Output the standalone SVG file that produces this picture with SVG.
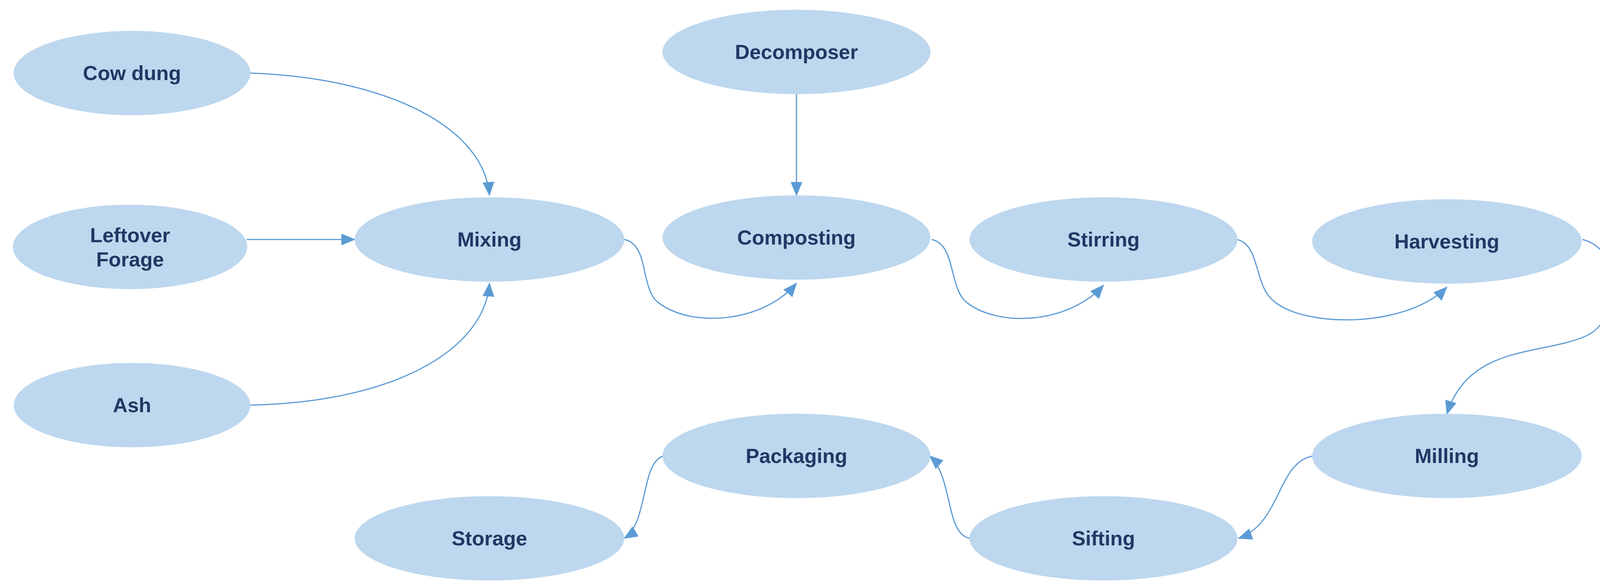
<svg xmlns="http://www.w3.org/2000/svg" width="4179" height="1500" viewBox="0 0 4179 1500">
<style>
.n ellipse{fill:#bdd7ee;stroke:none}
.n text{font-family:"Liberation Sans",Arial,sans-serif;font-weight:bold;font-size:52px;fill:#203864;text-anchor:middle;dominant-baseline:central}
.c path{fill:none;stroke:#5b9bd5;stroke-width:3}
</style>
<defs>
<marker id="a" viewBox="0 0 10 10" refX="9" refY="5" markerWidth="12" markerHeight="12" markerUnits="userSpaceOnUse" orient="auto" style="overflow:visible">
<path d="M0,0 L10,5 L0,10 z" fill="#5b9bd5" transform="scale(3) translate(-6.5,-3.3)"/>
</marker>
<marker id="b" markerWidth="36" markerHeight="30" refX="34" refY="15" orient="auto" markerUnits="userSpaceOnUse">
<path d="M0,0 L36,15 L0,30 z" fill="#5b9bd5"/>
</marker>
</defs>
<g class="c">
<path d="M640,187 C1000,200 1240,330 1253,500" marker-end="url(#b)"/>
<path d="M632,613 L908,613" marker-end="url(#b)"/>
<path d="M640,1037 C1000,1030 1240,900 1253,725" marker-end="url(#b)"/>
<path d="M2039,240 L2039,500" marker-end="url(#b)"/>
<path d="M1598,613 C1660,625 1640,730 1680,770 C1760,840 1950,830 2039,725" marker-end="url(#b)"/>
<path d="M2385,613 C2445,625 2430,730 2470,770 C2550,840 2735,830 2825,730" marker-end="url(#b)"/>
<path d="M3166,613 C3226,625 3210,730 3260,770 C3340,840 3600,840 3704,735" marker-end="url(#b)"/>
<path d="M4051,613 C4160,640 4150,820 4060,860 C3950,910 3760,880 3704,1060" marker-end="url(#b)"/>
<path d="M3363,1167 C3270,1180 3280,1340 3171,1378" marker-end="url(#b)"/>
<path d="M2484,1378 C2420,1370 2440,1220 2380,1167" marker-end="url(#b)"/>
<path d="M1700,1167 C1640,1180 1660,1340 1598,1378" marker-end="url(#b)"/>
</g>
<g class="n" id="cowdung"><ellipse cx="338" cy="187" rx="303" ry="108"/><text x="338" y="187">Cow dung</text></g>
<g class="n" id="leftover"><ellipse cx="333" cy="632" rx="300" ry="108"/><text x="333" y="632"><tspan x="333" dy="-30">Leftover</tspan><tspan x="333" dy="62">Forage</tspan></text></g>
<g class="n" id="ash"><ellipse cx="338" cy="1037" rx="303" ry="108"/><text x="338" y="1037">Ash</text></g>
<g class="n" id="mixing"><ellipse cx="1253" cy="613" rx="345" ry="108"/><text x="1253" y="613">Mixing</text></g>
<g class="n" id="decomposer"><ellipse cx="2039" cy="133" rx="343" ry="108"/><text x="2039" y="133">Decomposer</text></g>
<g class="n" id="composting"><ellipse cx="2039" cy="608" rx="343" ry="108"/><text x="2039" y="608">Composting</text></g>
<g class="n" id="stirring"><ellipse cx="2825" cy="613" rx="343" ry="108"/><text x="2825" y="613">Stirring</text></g>
<g class="n" id="harvesting"><ellipse cx="3704" cy="618" rx="345" ry="108"/><text x="3704" y="618">Harvesting</text></g>
<g class="n" id="milling"><ellipse cx="3704" cy="1167" rx="345" ry="108"/><text x="3704" y="1167">Milling</text></g>
<g class="n" id="sifting"><ellipse cx="2825" cy="1378" rx="343" ry="108"/><text x="2825" y="1378">Sifting</text></g>
<g class="n" id="packaging"><ellipse cx="2039" cy="1167" rx="343" ry="108"/><text x="2039" y="1167">Packaging</text></g>
<g class="n" id="storage"><ellipse cx="1253" cy="1378" rx="345" ry="108"/><text x="1253" y="1378">Storage</text></g>
</svg>
